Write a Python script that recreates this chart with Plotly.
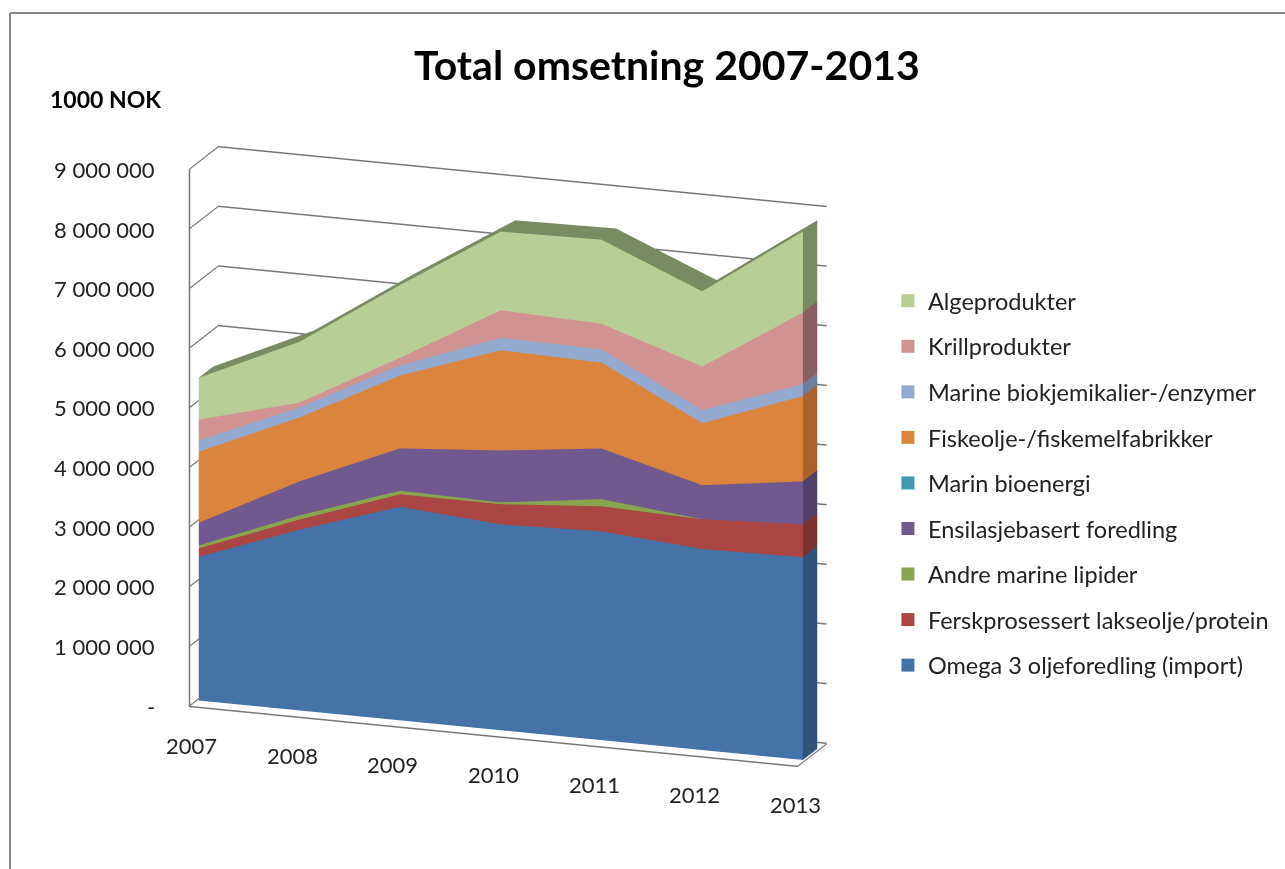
import plotly.graph_objects as go

years = [2007, 2008, 2009, 2010, 2011, 2012, 2013]
omega = [2.41, 3.03, 3.58, 3.45, 3.50, 3.37, 3.40]
fersk = [0.14, 0.17, 0.21, 0.34, 0.42, 0.50, 0.55]
andre = [0.05, 0.07, 0.06, 0.03, 0.12, 0.00, 0.00]
ensil = [0.38, 0.57, 0.71, 0.87, 0.85, 0.57, 0.72]
bioen = [0.00, 0.00, 0.00, 0.00, 0.00, 0.00, 0.00]
fisk = [1.19, 1.07, 1.22, 1.68, 1.44, 1.04, 1.43]
biok = [0.19, 0.17, 0.17, 0.21, 0.22, 0.22, 0.20]
krill = [0.35, 0.08, 0.13, 0.46, 0.43, 0.73, 1.20]
alge = [0.70, 1.02, 1.22, 1.32, 1.41, 1.26, 1.36]

names = ["Omega 3 oljeforedling (import)", "Ferskprosessert lakseolje/protein", "Andre marine lipider",
         "Ensilasjebasert foredling", "Marin bioenergi", "Fiskeolje-/fiskemelfabrikker",
         "Marine biokjemikalier-/enzymer", "Krillprodukter", "Algeprodukter"]
series = [omega, fersk, andre, ensil, bioen, fisk, biok, krill, alge]
colors = ["#4572a7", "#aa4643", "#89a54e", "#71588f", "#4198af", "#db843d", "#93a9cf", "#d19392", "#b9cd96"]
darks = ["#2f5379", "#7d3230", "#647a38", "#524068", "#2e7080", "#a8642c", "#6d7f9c", "#8a5f5f", "#7a8a62"]
tickvals = [0, 1, 2, 3, 4, 5, 6, 7, 8, 9]
ticktext = ["-", "1 000 000", "2 000 000", "3 000 000", "4 000 000", "5 000 000", "6 000 000", "7 000 000", "8 000 000", "9 000 000"]

FONT = "Lato, Carlito, sans-serif"
GRID = "#777777"
fig = go.Figure()
n = len(years)
base = [0.0] * n
for s, (name, vals, c, d) in enumerate(zip(names, series, colors, darks)):
    top = [b + v for b, v in zip(base, vals)]
    xs, ys, zs, i, j, k, fc = [], [], [], [], [], [], []
    for depth in (0.25, 0.75):
        for t in range(n):
            xs += [years[t], years[t]]
            ys += [depth, depth]
            zs += [base[t], top[t]]
    def idx(side, t, up):
        return side * 2 * n + 2 * t + up
    for t in range(n - 1):
        a, b2, c2, d2 = idx(0, t, 0), idx(0, t, 1), idx(0, t + 1, 1), idx(0, t + 1, 0)
        i += [a, a]; j += [b2, c2]; k += [c2, d2]; fc += [c, c]
        if s == len(names) - 1:
            a, b2, c2, d2 = idx(0, t, 1), idx(1, t, 1), idx(1, t + 1, 1), idx(0, t + 1, 1)
            i += [a, a]; j += [b2, c2]; k += [c2, d2]; fc += [d, d]
    a, b2, c2, d2 = idx(0, n - 1, 0), idx(0, n - 1, 1), idx(1, n - 1, 1), idx(1, n - 1, 0)
    i += [a, a]; j += [b2, c2]; k += [c2, d2]; fc += [d, d]
    fig.add_trace(go.Mesh3d(x=xs, y=ys, z=zs, i=i, j=j, k=k, facecolor=fc, flatshading=True,
                            lighting=dict(ambient=1, diffuse=0, specular=0, roughness=1, fresnel=0),
                            name=name, showlegend=False, hoverinfo="name"))
    base = top

for name, c in zip(reversed(names), reversed(colors)):
    fig.add_trace(go.Scatter(x=[None], y=[None], mode="markers", name=name, legendgroup=name,
                             marker=dict(symbol="square", size=13, color=c)))

annots = []
for v, t in zip(tickvals, ticktext):
    annots.append(dict(x=years[0], y=0, z=v, text=t, showarrow=False, xanchor="right", xshift=-34,
                       font=dict(family=FONT, size=22, color="#222")))
for yr in years:
    annots.append(dict(x=yr, y=0, z=0, text=str(yr), showarrow=False, xanchor="center", yshift=-39,
                       font=dict(family=FONT, size=22, color="#222")))

axis_common = dict(showbackground=False, showspikes=False, zeroline=False, title="", showticklabels=False, ticks="")
r = 2.4
sc = 0.79
fig.update_layout(
    width=1285, height=869, margin=dict(l=0, r=0, t=0, b=0), paper_bgcolor="white", plot_bgcolor="white",
    font=dict(family=FONT, color="#222"),
    xaxis=dict(visible=False), yaxis=dict(visible=False),
    title=dict(text="<b>Total omsetning 2007-2013</b>", x=0.519, xanchor="center", y=0.924, yanchor="middle", font=dict(family=FONT, size=41, color="black")),
    legend=dict(x=0.691, y=0.679, yanchor="top", traceorder="grouped", font=dict(family=FONT, size=23.5), itemwidth=30, tracegroupgap=12, bgcolor="rgba(0,0,0,0)"),
    scene=dict(
        domain=dict(x=[0.0093, 0.7813], y=[0.0046, 0.9446]),
        aspectmode="manual", aspectratio=dict(x=2.0*sc, y=0.267*sc, z=1.733*sc),
        camera=dict(eye=dict(x=0.321*r, y=-0.903*r, z=0.276*r), center=dict(x=0, y=0, z=0), up=dict(x=0, y=0, z=1),
                    projection=dict(type="orthographic")),
        xaxis=dict(axis_common, range=[2006.98, 2013.02], tickvals=years, showgrid=False, showline=True, linecolor=GRID, linewidth=3),
        yaxis=dict(axis_common, range=[0, 1], tickvals=[], showgrid=False, showline=True, linecolor=GRID, linewidth=3),
        zaxis=dict(axis_common, range=[-0.01, 9], tickvals=tickvals, showgrid=True, gridcolor=GRID, gridwidth=3, showline=True, linecolor=GRID, linewidth=3),
        annotations=annots,
    ),
    annotations=[dict(text="<b>1000 NOK</b>", xref="paper", yref="paper", x=0.0375, y=0.886, xanchor="left", yanchor="middle", showarrow=False, font=dict(family=FONT, size=23, color="black"))],
    shapes=[dict(type="line", xref="paper", yref="paper", x0=0.0078, x1=0.0078, y0=0, y1=0.985, line=dict(color="#888", width=2)),
            dict(type="line", xref="paper", yref="paper", x0=0.0078, x1=1, y0=0.985, y1=0.985, line=dict(color="#888", width=2))],
)
fig.write_html("out.html", config=dict(displayModeBar=False), post_script="document.body.style.margin='0';")
